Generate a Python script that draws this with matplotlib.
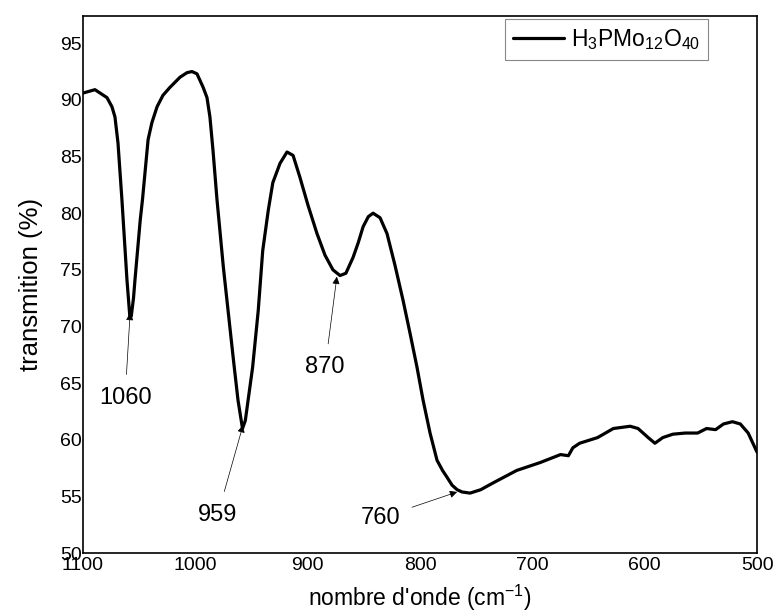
import numpy as np
import matplotlib
matplotlib.use('Agg')
import matplotlib.pyplot as plt
import matplotlib as mpl

mpl.rcParams['font.family'] = ['Liberation Sans', 'DejaVu Sans']
mpl.rcParams['mathtext.fontset'] = 'custom'
mpl.rcParams['mathtext.rm'] = 'Liberation Sans'
mpl.rcParams['mathtext.it'] = 'Liberation Sans:italic'
mpl.rcParams['axes.linewidth'] = 1.2

# wavenumber (cm-1) and transmission (%)
wavenumber = [1100, 1089.3, 1078.6, 1074.2, 1071.5, 1068.8, 1065.3, 1060.8, 1058.2,
              1057, 1055, 1053.7, 1049, 1047, 1042, 1038.6, 1034, 1028.8, 1022.6,
              1013.6, 1007.4, 1003, 998.5, 993, 989.6, 987, 984.3, 980.7,
              975, 966, 962, 958, 955.5, 949, 944, 940, 935, 931, 924.6, 918.4,
              913, 907, 899.7, 891.7, 884.6, 877.5, 871.2, 866, 859.6, 855, 850.7,
              846, 841.8, 835.6, 829.4, 822.3, 815.1, 808.9, 802.7, 797.3, 791.1,
              784.9, 780, 776, 771.5, 767, 762.6, 755.5, 746, 735, 714, 693, 675, 668,
              664, 658, 642, 628, 613, 606, 597, 591, 584, 575, 564, 553,
              545, 537, 530, 522, 515, 508, 501, 500]
transmission = [90.6, 90.9, 90.2, 89.4, 88.5, 86.2, 81.2, 74.1, 70.8,
                70.9, 72.5, 74.1, 79.4, 81.2, 86.5, 88.0, 89.4, 90.4, 91.1,
                92.0, 92.4, 92.5, 92.3, 91.1, 90.2, 88.5, 85.6, 81.2,
                75.2, 67.0, 63.5, 61.0, 61.7, 66.4, 71.4, 76.7, 80.3, 82.7, 84.4, 85.4,
                85.1, 83.2, 80.7, 78.2, 76.3, 75.0, 74.5, 74.7, 76.1, 77.4, 78.8,
                79.7, 80.0, 79.6, 78.2, 75.4, 72.3, 69.4, 66.4, 63.5, 60.6,
                58.2, 57.3, 56.7, 56.0, 55.6, 55.4, 55.3, 55.6, 56.2, 57.3, 58.0, 58.7, 58.6,
                59.3, 59.7, 60.2, 61.0, 61.2, 61.0, 60.2, 59.7, 60.2, 60.5, 60.6, 60.6,
                61.0, 60.9, 61.4, 61.6, 61.4, 60.6, 59.1, 58.9]

# band annotations: label, arrow tip (x, y), text centre (x, y)
band_labels = ['1060', '959', '870', '760']
band_tip_x = [1058, 957.5, 874, 767]
band_tip_y = [71.2, 61.3, 74.4, 55.4]
band_text_x = [1062.5, 980, 884.5, 835.5]
band_text_y = [63.7, 53.4, 66.4, 53.1]

fig = plt.figure(figsize=(7.75, 6.16), dpi=100)
ax = fig.add_axes([0.107, 0.102, 0.870, 0.872])

ax.plot(wavenumber, transmission, color='k', lw=2.3, solid_joinstyle='round',
        solid_capstyle='round', label=r'H$_3$PMo$_{12}$O$_{40}$')

for lab, tx, ty, lx, ly in zip(band_labels, band_tip_x, band_tip_y, band_text_x, band_text_y):
    ax.annotate(lab, xy=(tx, ty), xytext=(lx, ly), ha='center', va='center',
                fontsize=17,
                arrowprops=dict(arrowstyle='-|>', color='k', lw=0.5,
                                mutation_scale=11, shrinkA=7, shrinkB=0))

ax.set_xlim(1100, 500)
ax.set_ylim(50, 97.4)
ax.set_xticks([1100, 1000, 900, 800, 700, 600, 500])
ax.set_yticks([50, 55, 60, 65, 70, 75, 80, 85, 90, 95])
ax.tick_params(axis='both', length=0, labelsize=14)
ax.tick_params(axis='y', pad=1)
ax.tick_params(axis='x', pad=3)

ax.set_xlabel(r"nombre d'onde (cm$^{-1}$)", fontsize=16.5, labelpad=6)
ax.set_ylabel('transmition (%)', fontsize=18.5, labelpad=12)

leg = ax.legend(loc='upper right', bbox_to_anchor=(0.927, 0.994), fontsize=16.5,
                fancybox=False, framealpha=1, edgecolor='#888888',
                handlelength=2.2, handletextpad=0.3, borderpad=0.35,
                borderaxespad=0)
leg.get_frame().set_linewidth(0.8)

fig.savefig('out.png', dpi=100)
